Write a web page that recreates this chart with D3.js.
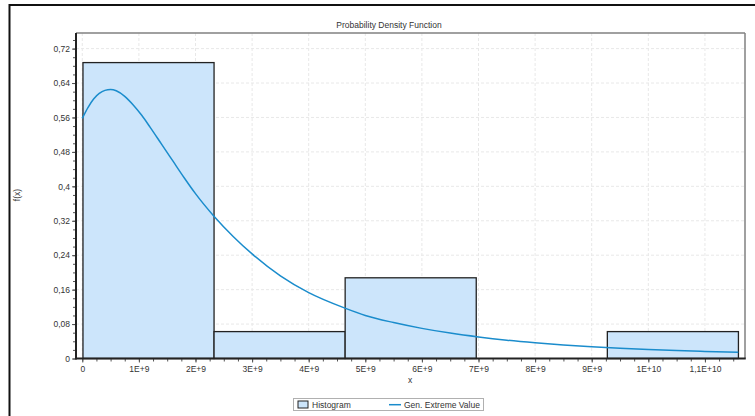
<!DOCTYPE html>
<html>
<head>
<meta charset="utf-8">
<script src="https://cdn.jsdelivr.net/npm/d3@7"></script>
<style>
  html, body { margin: 0; padding: 0; background: #fff; }
  svg { display: block; }
  text { font-family: "Liberation Sans", Arial, sans-serif; fill: #333; }
</style>
</head>
<body>
<svg id="chart" width="755" height="416"></svg>
<script>
// ---- data ----
const binEdges = [0.012e9, 2.328e9, 4.644e9, 6.960e9, 9.276e9, 11.592e9];
const binHeights = [0.6875, 0.0625, 0.1875, 0, 0.0625];

const curveX = [0, 0.1e9, 0.2e9, 0.3e9, 0.4e9, 0.5e9, 0.6e9, 0.75e9, 0.9e9, 1.05e9,
  1.2e9, 1.4e9, 1.6e9, 1.8e9, 2.0e9, 2.33e9, 2.67e9, 3.0e9, 3.5e9, 4.0e9,
  4.64e9, 5.0e9, 5.5e9, 6.0e9, 6.5e9, 7.0e9, 7.5e9, 8.0e9, 8.5e9, 9.0e9,
  9.5e9, 10.0e9, 10.5e9, 11.0e9, 11.59e9];
const curveY = [0.558, 0.583, 0.603, 0.616, 0.623, 0.625, 0.622, 0.609, 0.589, 0.565,
  0.537, 0.498, 0.459, 0.420, 0.383, 0.330, 0.283, 0.243, 0.192, 0.153,
  0.117, 0.100, 0.0835, 0.070, 0.059, 0.050, 0.0425, 0.0365, 0.0315, 0.0273,
  0.0238, 0.0209, 0.0185, 0.0165, 0.0143];

const xTicks = [0, 1e9, 2e9, 3e9, 4e9, 5e9, 6e9, 7e9, 8e9, 9e9, 10e9, 11e9];
const xTickLabels = ["0", "1E+9", "2E+9", "3E+9", "4E+9", "5E+9", "6E+9", "7E+9", "8E+9", "9E+9", "1E+10", "1,1E+10"];
const yTicks = [0, 0.08, 0.16, 0.24, 0.32, 0.4, 0.48, 0.56, 0.64, 0.72];
const yTickLabels = ["0", "0,08", "0,16", "0,24", "0,32", "0,4", "0,48", "0,56", "0,64", "0,72"];
const xMinorStep = 0.25e9;
const yMinorStep = 0.02;

const titleText = "Probability Density Function";
const xLabel = "x";
const yLabel = "f(x)";
const legendLabels = ["Histogram", "Gen. Extreme Value"];

// ---- layout ----
const svg = d3.select("#chart");
const plot = { left: 76, right: 745, top: 33, bottom: 358.5 };
const x = d3.scaleLinear().domain([-0.111e9, 11.708e9]).range([plot.left, plot.right]);
const y = d3.scaleLinear().domain([0, 0.75625]).range([plot.bottom, plot.top]);

const barFill = "#cce5fb";
const lineColor = "#1a8ccc";

// outer frame (top and left edges)
svg.append("line").attr("x1", 9.5).attr("x2", 755).attr("y1", 5).attr("y2", 5)
  .attr("stroke", "#111").attr("stroke-width", 2);
svg.append("line").attr("x1", 9.5).attr("x2", 9.5).attr("y1", 4).attr("y2", 416)
  .attr("stroke", "#111").attr("stroke-width", 2);

// title
svg.append("text").attr("x", 389).attr("y", 28).attr("text-anchor", "middle")
  .attr("font-size", 8.5).text(titleText);

// grid
const grid = svg.append("g");
grid.selectAll("line.gx").data(xTicks).join("line")
  .attr("x1", d => x(d)).attr("x2", d => x(d))
  .attr("y1", plot.top).attr("y2", plot.bottom)
  .attr("stroke", "#e8e8e8").attr("stroke-width", 1).attr("stroke-dasharray", "3,2");
grid.selectAll("line.gy").data(yTicks).join("line")
  .attr("x1", plot.left).attr("x2", plot.right)
  .attr("y1", d => y(d)).attr("y2", d => y(d))
  .attr("stroke", "#e8e8e8").attr("stroke-width", 1).attr("stroke-dasharray", "3,2");

// plot border top/right
svg.append("line").attr("x1", plot.left).attr("x2", plot.right).attr("y1", plot.top).attr("y2", plot.top)
  .attr("stroke", "#808080").attr("stroke-width", 1.5);
svg.append("line").attr("x1", plot.right).attr("x2", plot.right).attr("y1", plot.top).attr("y2", plot.bottom)
  .attr("stroke", "#808080").attr("stroke-width", 1.5);

// histogram bars
const bins = binHeights.map((h, i) => ({ x0: binEdges[i], x1: binEdges[i + 1], h }));
svg.append("g").selectAll("rect").data(bins).join("rect")
  .attr("x", d => x(d.x0)).attr("width", d => x(d.x1) - x(d.x0))
  .attr("y", d => y(d.h)).attr("height", d => y(0) - y(d.h))
  .attr("fill", barFill).attr("stroke", "#222").attr("stroke-width", 1.3);

// curve
const pts = curveX.map((v, i) => [v, curveY[i]]);
svg.append("path").datum(pts)
  .attr("d", d3.line().x(d => x(d[0])).y(d => y(d[1])).curve(d3.curveMonotoneX))
  .attr("fill", "none").attr("stroke", lineColor).attr("stroke-width", 1.5);

// axes
const xMinor = d3.range(0, 11.6e9, xMinorStep);
const yMinor = d3.range(0, 0.757, yMinorStep);
const xAxisMinor = d3.axisBottom(x).tickValues(xMinor).tickSize(3).tickFormat("");
const yAxisMinor = d3.axisLeft(y).tickValues(yMinor).tickSize(3).tickFormat("");
const xAxis = d3.axisBottom(x).tickValues(xTicks).tickSize(4).tickPadding(3)
  .tickFormat((d, i) => xTickLabels[i]);
const yAxis = d3.axisLeft(y).tickValues(yTicks).tickSize(4).tickPadding(2)
  .tickFormat((d, i) => yTickLabels[i]);

function styleAxis(g) {
  g.select(".domain").remove();
  g.selectAll(".tick line").attr("stroke", "#555");
  g.selectAll(".tick text").attr("font-size", 8.5).attr("fill", "#333")
    .attr("font-family", "Liberation Sans, Arial, sans-serif");
}
svg.append("g").attr("transform", `translate(0,${plot.bottom})`).call(xAxisMinor).call(styleAxis);
svg.append("g").attr("transform", `translate(${plot.left},0)`).call(yAxisMinor).call(styleAxis);
svg.append("g").attr("transform", `translate(0,${plot.bottom})`).call(xAxis).call(styleAxis);
svg.append("g").attr("transform", `translate(${plot.left},0)`).call(yAxis).call(styleAxis);

// axis lines
svg.append("line").attr("x1", plot.left).attr("x2", plot.right + 0.75).attr("y1", plot.bottom).attr("y2", plot.bottom)
  .attr("stroke", "#222").attr("stroke-width", 2);
svg.append("line").attr("x1", plot.left).attr("x2", plot.left).attr("y1", plot.top).attr("y2", plot.bottom + 1)
  .attr("stroke", "#222").attr("stroke-width", 2);

// axis labels
svg.append("text").attr("x", 410).attr("y", 383).attr("text-anchor", "middle")
  .attr("font-size", 8.5).text(xLabel);
svg.append("text").attr("transform", "translate(20,195) rotate(-90)").attr("text-anchor", "middle")
  .attr("font-size", 8.5).text(yLabel);

// legend
const lg = svg.append("g");
lg.append("rect").attr("x", 293.5).attr("y", 398.5).attr("width", 190).attr("height", 12)
  .attr("fill", "#fff").attr("stroke", "#b0b0b0").attr("stroke-width", 1);
lg.append("rect").attr("x", 298).attr("y", 401).attr("width", 10).attr("height", 7)
  .attr("fill", barFill).attr("stroke", "#222").attr("stroke-width", 1);
lg.append("text").attr("x", 312).attr("y", 407.8).attr("font-size", 8.5).text(legendLabels[0]);
lg.append("line").attr("x1", 389).attr("x2", 401).attr("y1", 404.7).attr("y2", 404.7)
  .attr("stroke", lineColor).attr("stroke-width", 1.5);
lg.append("text").attr("x", 404).attr("y", 407.8).attr("font-size", 8.5).text(legendLabels[1]);
</script>
</body>
</html>
